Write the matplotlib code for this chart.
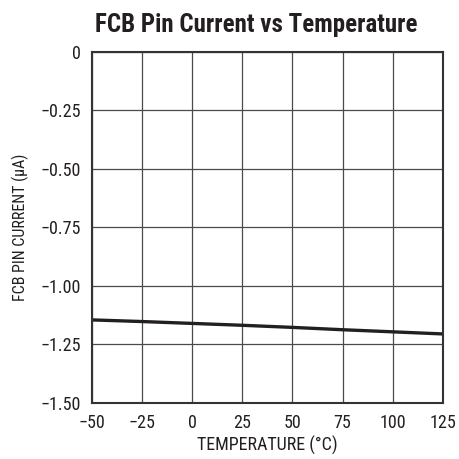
import matplotlib
matplotlib.use("Agg")
import matplotlib.pyplot as plt

plt.rcParams['font.family'] = ['Roboto Condensed', 'DejaVu Sans']

temperature = [-50, -25, 0, 25, 50, 75, 100, 125]
current = [-1.145, -1.152, -1.160, -1.168, -1.177, -1.187, -1.196, -1.205]

xticks = [-50, -25, 0, 25, 50, 75, 100, 125]
yticks = [0, -0.25, -0.50, -0.75, -1.00, -1.25, -1.50]
ylabels = ["0", "\u22120.25", "\u22120.50", "\u22120.75", "\u22121.00", "\u22121.25", "\u22121.50"]
xlabels = ["\u221250", "\u221225", "0", "25", "50", "75", "100", "125"]

fig = plt.figure(figsize=(4.59, 4.59), dpi=100)
ax = fig.add_axes([0.200, 0.122, 0.765, 0.765])
ax.plot(temperature, current, color="#231f20", lw=2.4)
ax.set_xlim(-50, 125)
ax.set_ylim(-1.5, 0)
ax.set_xticks(xticks)
ax.set_xticklabels(xlabels)
ax.set_yticks(yticks)
ax.set_yticklabels(ylabels)
ax.grid(True, color="#4a4a4a", lw=0.9)
ax.tick_params(length=0, labelsize=13, colors="#231f20")
ax.tick_params(axis="x", pad=8)
ax.tick_params(axis="y", pad=8)
for s in ax.spines.values():
    s.set_linewidth(1.5)
    s.set_color("#333333")
ax.set_xlabel("TEMPERATURE (\u00b0C)", fontsize=13, color="#231f20", labelpad=3)
ax.set_ylabel("FCB PIN CURRENT (\u00b5A)", fontsize=11.5, color="#231f20", labelpad=8)
fig.text(0.558, 0.946, "FCB Pin Current vs Temperature", fontsize=18, fontweight="bold",
         color="#231f20", ha="center", va="center")
fig.savefig("out.png", dpi=100)
